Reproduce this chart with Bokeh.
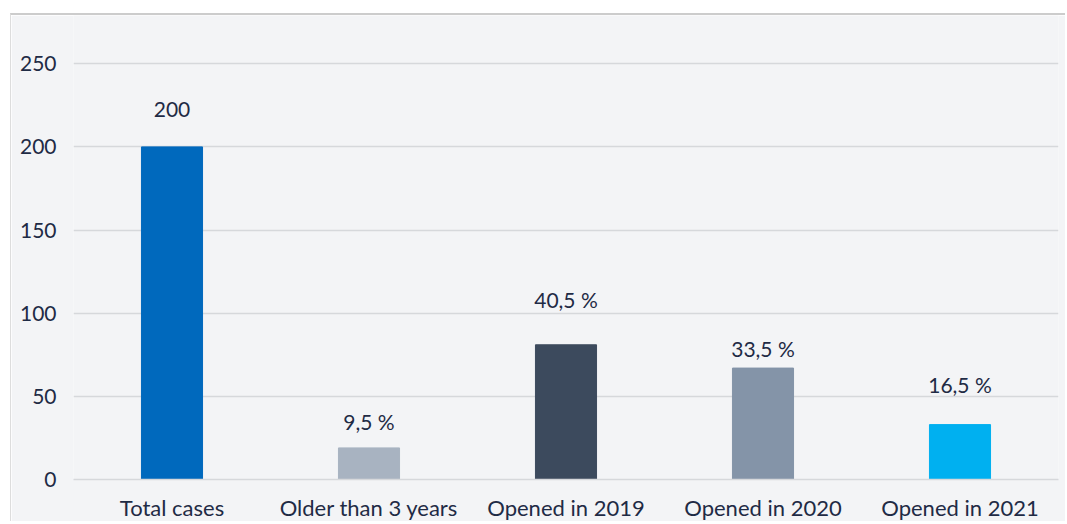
from bokeh.plotting import figure
from bokeh.models import ColumnDataSource, Range1d, FixedTicker
from bokeh.core.properties import value
from bokeh.embed import file_html
from bokeh.resources import INLINE

categories = ["Total cases", "Older than 3 years", "Opened in 2019", "Opened in 2020", "Opened in 2021"]
counts = [200, 19, 81, 67, 33]
labels = ["200", "9,5 %", "40,5 %", "33,5 %", "16,5 %"]
colors = ["#0069bd", "#a8b3c1", "#3c4a5d", "#8494a8", "#00b0f0"]
label_offsets_px = [37, 26, 45, 20, 40]
y_ticks = [0, 50, 100, 150, 200, 250]

TEXT = "#1f2b45"
FONT = "Lato"
BG = "#f3f4f6"

src = ColumnDataSource(dict(cat=categories, val=counts, lab=labels, col=colors,
                            off=[-o for o in label_offsets_px]))

p = figure(x_range=categories, y_range=Range1d(0, 279), width=1055, height=508,
           output_backend="svg", toolbar_location=None,
           min_border_left=62, min_border_right=8, min_border_top=0, min_border_bottom=42)
p.styles = {"margin-left": "10px", "margin-top": "13px",
            "border-top": "2px solid #cccccc", "border-left": "1px solid #dddddd"}
p.background_fill_color = BG
p.border_fill_color = BG
p.outline_line_color = None

p.vbar(x="cat", top="val", width=0.31, color="col", source=src)
p.text(x="cat", y="val", text="lab", y_offset="off", source=src,
       text_align="center", text_baseline="middle",
       text_font=value(FONT), text_font_size="21px", text_color=TEXT)

p.xgrid.grid_line_color = None
p.ygrid.grid_line_color = "#d6d8db"
p.ygrid.grid_line_width = 1.5
p.yaxis.ticker = FixedTicker(ticks=y_ticks)
p.yaxis.axis_line_color = None
p.yaxis.major_tick_line_color = None
p.yaxis.minor_tick_line_color = None
p.yaxis.major_label_standoff = 11
p.yaxis.major_label_text_font = FONT
p.yaxis.major_label_text_font_size = "21px"
p.yaxis.major_label_text_color = TEXT

p.xaxis.axis_line_color = "#d6d8db"
p.xaxis.axis_line_width = 1.5
p.xaxis.major_tick_line_color = None
p.xaxis.minor_tick_line_color = None
p.xaxis.major_label_standoff = 8
p.xaxis.major_label_text_font = FONT
p.xaxis.major_label_text_font_size = "22px"
p.xaxis.major_label_text_color = TEXT

open("out.html", "w").write(file_html(p, INLINE))
